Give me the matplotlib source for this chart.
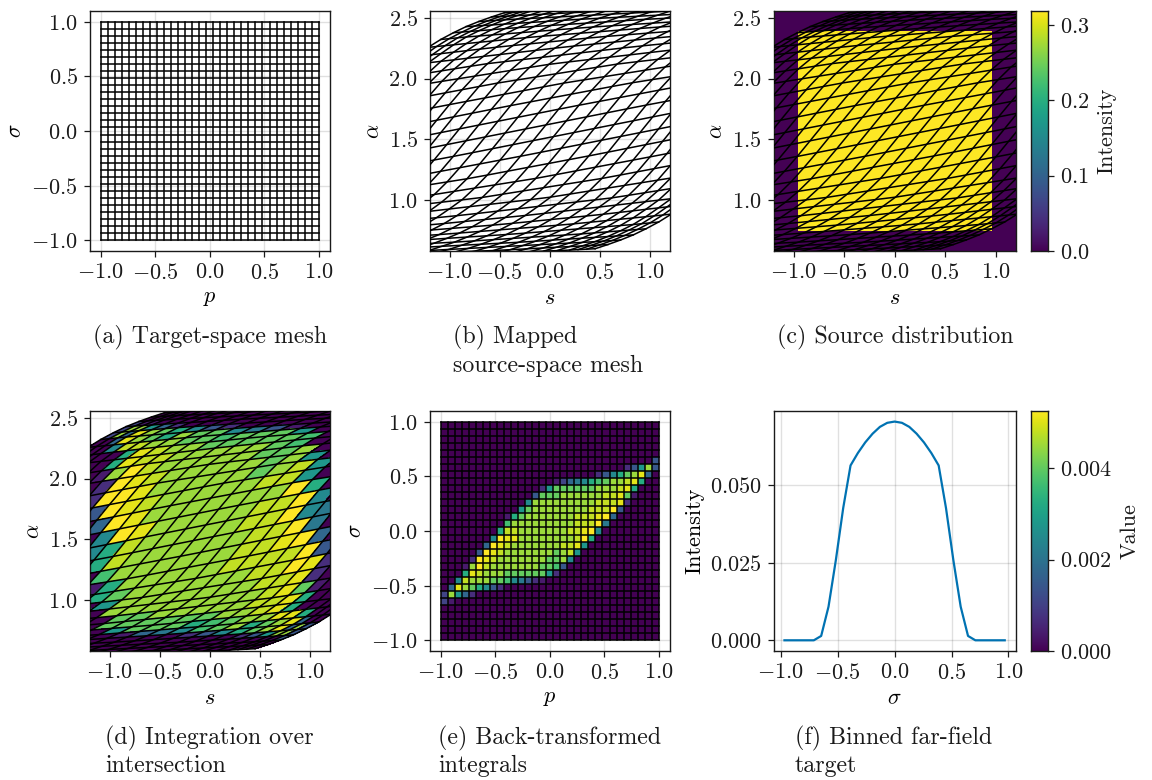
import numpy as np
import matplotlib
matplotlib.use("Agg")
import matplotlib.pyplot as plt

plt.rcParams['font.family'] = ['cmr10', 'DejaVu Serif']
plt.rcParams['mathtext.fontset'] = 'cm'
plt.rcParams['axes.formatter.use_mathtext'] = True
plt.rcParams['font.size'] = 16

W, H = 1152, 780

# Bin levels: row from top, first lit column, hex digits (index into level_fraction)
lit_rows = [
    (5, 30, "4"),
    (6, 26, "248c4"),
    (7, 22, "2479bce5"),
    (8, 16, "135679abccde9"),
    (9, 14, "28bbbbbbcccde9"),
    (10, 13, "4bbbccccccddeb1"),
    (11, 12, "7cccccccccddde2"),
    (12, 11, "8bccccccccdddf4"),
    (13, 9, "19bcccccccdddef5"),
    (14, 9, "acccccccccdddf6"),
    (15, 8, "9ddcccccccddef7"),
    (16, 7, "7feeccccccccdf9"),
    (17, 6, "5fedcccccccdde8"),
    (18, 5, "4fedcccccccbcd8"),
    (19, 4, "2fedcccccccbbc7"),
    (20, 3, "1cfdcccccccbba4"),
    (21, 3, "9edcccbbbbbb82"),
    (22, 2, "7dcccbba76421"),
    (23, 1, "5ecb9742"),
    (24, 0, "3c852"),
    (25, 0, "31"),
]
level_fraction = [0.0, 0.07, 0.13, 0.2, 0.27, 0.33, 0.4, 0.47, 0.53, 0.62, 0.70, 0.76, 0.85, 0.91, 0.96, 1.0]
value_max = 0.00525

# Far-field profile, centre bin outward
f_half = [0.0703, 0.0699, 0.0686, 0.0664, 0.0636, 0.0602, 0.0562, 0.0425, 0.0258, 0.0108,
          0.0014, 0.0, 0.0, 0.0, 0.0, 0.0]

# Source rectangle and colour range
source_s = [-0.96, 0.96]
source_alpha = [0.748, 2.39]
source_level = 0.3187

# Source mesh shape fitted by eye to panel (b)
s_per_p = 3.19
s_per_sigma = -1.97
alpha_mid = 1.571
v_per_p = -0.26
warp_in = [0.0, 0.2, 0.4, 0.6, 0.8, 1.0]
warp_out = [0.0, 0.198, 0.385, 0.549, 0.677, 0.76]
bend_v = [0.0, 0.1, 0.2, 0.3, 0.42, 0.5, 0.6, 0.7, 0.83, 1.0, 1.3, 1.6]
bend_alpha = [0.0, 0.20, 0.39, 0.55, 0.69, 0.77, 0.85, 0.915, 0.984, 1.04, 1.10, 1.13]

# alpha to bin-row lookup read from where the source rectangle lands in panel (e)
lookup_alpha = [0.524, 0.549, 0.586, 0.620, 0.669, 0.740, 0.840, 0.974, 1.145, 1.349, 1.571,
                1.793, 1.997, 2.168, 2.302, 2.402, 2.473, 2.522, 2.556, 2.593, 2.618]
lookup_v = [1.5, 1.0, 0.8, 0.7, 0.6, 0.5, 0.4, 0.3, 0.2, 0.1, 0.0,
            -0.1, -0.2, -0.3, -0.4, -0.5, -0.6, -0.7, -0.8, -1.0, -1.5]
lookup_gain = 2.375

n_cells = 31
p_nodes = np.linspace(-1, 1, n_cells + 1)
sigma_nodes = np.linspace(-1, 1, n_cells + 1)
P, S_ = np.meshgrid(p_nodes, sigma_nodes)

P_warp = np.sign(P) * np.interp(np.abs(P), warp_in, warp_out)
mesh_s = s_per_p * P_warp + s_per_sigma * S_
mesh_v = S_ + v_per_p * P_warp
mesh_alpha = alpha_mid - np.sign(mesh_v) * np.interp(np.abs(mesh_v), bend_v, bend_alpha)

values = np.zeros((n_cells, n_cells))
for row, start, digits in lit_rows:
    for i, ch in enumerate(digits):
        values[n_cells - 1 - row, start + i] = level_fraction[int(ch, 16)] * value_max

# Colours of the source mesh cells, taken from the bins of panel (e)
cell_s = (mesh_s[:-1, :-1] + mesh_s[1:, 1:] + mesh_s[1:, :-1] + mesh_s[:-1, 1:]) / 4
cell_alpha = (mesh_alpha[:-1, :-1] + mesh_alpha[1:, 1:] + mesh_alpha[1:, :-1] + mesh_alpha[:-1, 1:]) / 4
cell_v = np.interp(cell_alpha, lookup_alpha, lookup_v)
cell_sigma = cell_v + 0.25 * cell_s / lookup_gain
cell_p = cell_sigma + cell_s / lookup_gain
col = np.floor((cell_p + 1) / 2 * n_cells).astype(int)
row = np.floor((cell_sigma + 1) / 2 * n_cells).astype(int)
inside = (col >= 0) & (col < n_cells) & (row >= 0) & (row < n_cells)
mesh_values = np.zeros_like(values)
mesh_values[inside] = values[row[inside], col[inside]]

f_x = (p_nodes[:-1] + p_nodes[1:]) / 2
f_y = np.array(f_half[:0:-1] + f_half)

BLACK = '#1a1a1a'


def make_axes(x0, x1, y0, y1):
    ax = fig.add_axes([x0 / W, 1 - y1 / H, (x1 - x0) / W, (y1 - y0) / H])
    ax.set_axisbelow(True)
    ax.grid(True, color='black', alpha=0.12, lw=1.0)
    ax.tick_params(length=4.5, width=0.9, pad=4, color=BLACK, labelcolor=BLACK)
    for sp in ax.spines.values():
        sp.set_linewidth(1.0)
        sp.set_color(BLACK)
    return ax


def draw_mesh(ax, X, Y):
    ax.plot(X, Y, color='black', lw=1.1, zorder=3)
    ax.plot(X.T, Y.T, color='black', lw=1.1, zorder=3)


def source_axes(ax):
    ax.set_xlim(-1.2, 1.2)
    ax.set_ylim(0.583, 2.555)
    ax.set_xticks([-1, -0.5, 0, 0.5, 1])
    ax.set_yticks([1, 1.5, 2, 2.5])
    ax.set_xlabel('$s$', labelpad=4)
    ax.set_ylabel(r'$\alpha$', labelpad=4)


def target_axes(ax):
    ax.set_xlim(-1.1, 1.1)
    ax.set_ylim(-1.1, 1.1)
    ax.set_xticks([-1, -0.5, 0, 0.5, 1])
    ax.set_yticks([-1, -0.5, 0, 0.5, 1])
    ax.set_xlabel('$p$', labelpad=4)
    ax.set_ylabel(r'$\sigma$', labelpad=4)


def add_colorbar(x0, x1, y0, y1, vmax, ticks, label, fmt):
    cax = fig.add_axes([x0 / W, 1 - y1 / H, (x1 - x0) / W, (y1 - y0) / H])
    grad = np.linspace(0, 1, 256)[:, None]
    cax.imshow(grad, origin='lower', aspect='auto', cmap='viridis', extent=[0, 1, 0, vmax])
    cax.set_xticks([])
    cax.yaxis.tick_right()
    cax.set_yticks(ticks)
    cax.set_yticklabels(['$%s$' % (fmt % t) for t in ticks])
    cax.tick_params(length=4.5, width=0.9, pad=4, color=BLACK, labelcolor=BLACK)
    cax.yaxis.set_label_position('right')
    cax.set_ylabel(label, labelpad=6, color=BLACK)
    for sp in cax.spines.values():
        sp.set_linewidth(1.0)
        sp.set_color(BLACK)


fig = plt.figure(figsize=(W / 100, H / 100), dpi=100)

# (a)
ax_a = make_axes(89.7, 329.7, 11, 251)
draw_mesh(ax_a, P, S_)
target_axes(ax_a)

# (b)
ax_b = make_axes(429.7, 669.7, 11, 251)
draw_mesh(ax_b, mesh_s, mesh_alpha)
source_axes(ax_b)

# (c)
ax_c = make_axes(773.5, 1015.7, 11, 251)
ax_c.set_facecolor(plt.cm.viridis(0.0))
ax_c.imshow([[1.0]], extent=[source_s[0], source_s[1], source_alpha[0], source_alpha[1]],
            cmap='viridis', vmin=0, vmax=1, aspect='auto', zorder=2)
draw_mesh(ax_c, mesh_s, mesh_alpha)
ax_c.grid(False)
source_axes(ax_c)
add_colorbar(1031, 1047.7, 11, 251, source_level, [0.0, 0.1, 0.2, 0.3], 'Intensity', '%.1f')

# (d)
ax_d = make_axes(89.7, 329.7, 411, 651)
ax_d.pcolormesh(mesh_s, mesh_alpha, mesh_values, cmap='viridis', vmin=0, vmax=value_max,
                shading='flat', zorder=2)
draw_mesh(ax_d, mesh_s, mesh_alpha)
source_axes(ax_d)

# (e)
ax_e = make_axes(429.7, 669.7, 411, 651)
ax_e.pcolormesh(P, S_, values, cmap='viridis', vmin=0, vmax=value_max, shading='flat', zorder=2)
draw_mesh(ax_e, P, S_)
target_axes(ax_e)

# (f)
ax_f = make_axes(773.5, 1015.7, 411, 651)
ax_f.plot(f_x, f_y, color='#0072b2', lw=1.6)
ax_f.set_xlim(-1.064, 1.064)
ax_f.set_ylim(-0.00344, 0.0737)
ax_f.set_xticks([-1, -0.5, 0, 0.5, 1])
ax_f.set_yticks([0, 0.025, 0.05])
ax_f.set_yticklabels(['$0.000$', '$0.025$', '$0.050$'])
ax_f.set_xlabel(r'$\sigma$', labelpad=4)
ax_f.set_ylabel('Intensity', labelpad=4)
add_colorbar(1031, 1047.7, 411, 651, value_max, [0, 0.002, 0.004], 'Value', '%.3f')

# Captions
captions = [
    (93, 337, '(a) Target-space mesh'),
    (453, 337, '(b) Mapped'),
    (453, 366, 'source-space mesh'),
    (777, 337, '(c) Source distribution'),
    (105, 738, '(d) Integration over'),
    (105, 766, 'intersection'),
    (438, 738, '(e) Back-transformed'),
    (438, 766, 'integrals'),
    (795, 738, '(f) Binned far-field'),
    (795, 766, 'target'),
]
for x, y, label in captions:
    fig.text(x / W, 1 - y / H, label, fontsize=17.2, va='center', ha='left', color=BLACK)

fig.savefig('out.png', dpi=100)
